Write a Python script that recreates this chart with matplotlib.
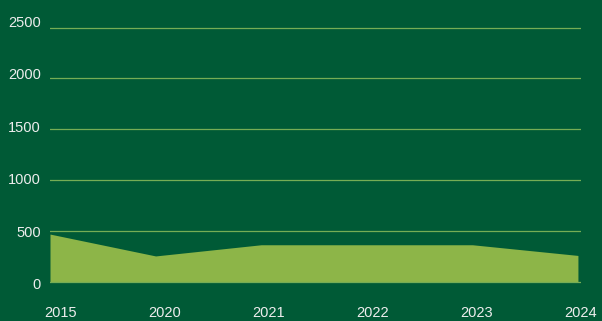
import matplotlib

matplotlib.use("Agg")
import matplotlib.pyplot as plt
import numpy as np

years = ["2015", "2020", "2021", "2022", "2023", "2024"]
values = [470, 255, 365, 365, 365, 260]
grid_levels = [0, 500, 1000, 1500, 2000, 2500]
grid_labels = ["0", "500", "1000", "1500", "2000", "2500"]

BG = "#005A36"
FILL = "#8DB548"
GRID = "#76AD55"
TEXT = "#EDEDED"

plt.rcParams["font.family"] = ["Liberation Sans", "DejaVu Sans"]

fig = plt.figure(figsize=(6.02, 3.21), dpi=100, facecolor=BG)
ax = fig.add_axes([50 / 602, 1 - 283.5 / 321, 531 / 602, 262 / 321])
ax.set_facecolor(BG)

x = np.arange(len(years))
ax.fill_between(x, 0, values, color=FILL, linewidth=0, zorder=2)
for level in grid_levels:
    ax.axhline(level, color=GRID, linewidth=0.9, zorder=3 if level == 0 else 1)

ax.set_xlim(0, len(years) - 1)
ax.set_ylim(0, 2500)

# tick labels sit on their own evenly spread positions
ax.set_xticks(0.104 + 0.985 * x, years)
ax.set_yticks(-16 + 515.2 * np.arange(len(grid_labels)), grid_labels)
ax.tick_params(axis="both", length=0, colors=TEXT, labelsize=10.5)
ax.tick_params(axis="x", pad=16)
ax.tick_params(axis="y", pad=6.5)

for spine in ax.spines.values():
    spine.set_visible(False)

fig.savefig("out.png", dpi=100, facecolor=BG)
